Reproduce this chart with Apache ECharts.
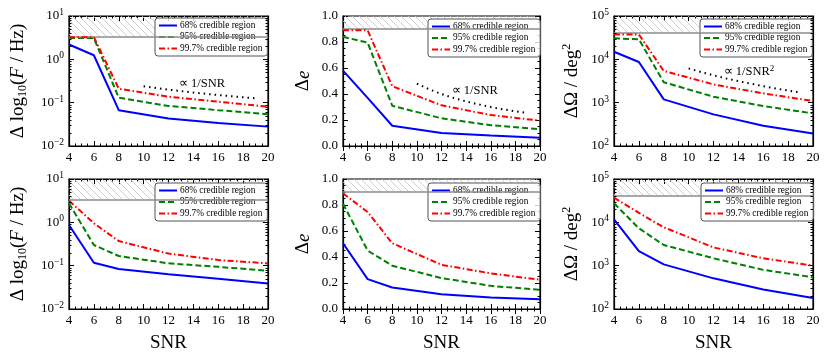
<!DOCTYPE html>
<html>
<head>
<meta charset="utf-8">
<script src="https://cdn.jsdelivr.net/npm/echarts@6/dist/echarts.min.js"></script>
<style>
  html, body { margin: 0; padding: 0; background: #fff; }
  #chart { width: 830px; height: 361px; }
</style>
</head>
<body>
<div id="chart"></div>
<script>
// SNR grid of the simulations
const snr = [4, 6, 8, 12, 16, 20];
// reference 1/SNR guide points
const refSnr = [10, 11, 12, 13, 14, 15, 16, 17, 18, 19];

// top row
const freqTop68 = [2.2, 1.24, 0.067, 0.043, 0.034, 0.028];
const freqTop95 = [3.1, 3.1, 0.13, 0.084, 0.067, 0.054];
const freqTop997 = [3.25, 3.25, 0.21, 0.137, 0.105, 0.081];
const freqTopRef = [0.24, 0.218, 0.2, 0.185, 0.171, 0.16, 0.15, 0.141, 0.133, 0.126];

const eccTop68 = [0.58, 0.37, 0.156, 0.10, 0.08, 0.064];
const eccTop95 = [0.84, 0.795, 0.31, 0.213, 0.16, 0.128];
const eccTop997 = [0.89, 0.89, 0.46, 0.313, 0.238, 0.195];
const eccTopRef = [0.48, 0.436, 0.4, 0.369, 0.343, 0.32, 0.3, 0.282, 0.267, 0.253];

const skyTop68 = [15000, 8700, 1190, 537, 293, 195];
const skyTop95 = [30500, 29000, 2960, 1370, 835, 566];
const skyTop997 = [37500, 37500, 5400, 2640, 1640, 1090];
const skyTopRef = [6160, 5090, 4280, 3640, 3140, 2740, 2410, 2130, 1900, 1710];

// bottom row
const freqBot68 = [0.87, 0.117, 0.084, 0.063, 0.05, 0.039];
const freqBot95 = [2.75, 0.30, 0.167, 0.113, 0.094, 0.076];
const freqBot997 = [3.16, 0.95, 0.37, 0.19, 0.135, 0.113];

const eccBot68 = [0.506, 0.23, 0.165, 0.114, 0.088, 0.075];
const eccBot95 = [0.81, 0.45, 0.333, 0.238, 0.178, 0.147];
const eccBot997 = [0.89, 0.746, 0.506, 0.34, 0.274, 0.225];

const skyBot68 = [11700, 2170, 1070, 510, 283, 180];
const skyBot95 = [27500, 7300, 3000, 1480, 800, 540];
const skyBot997 = [37000, 16600, 7700, 2640, 1480, 1000];

// prior limits (hatched)
const freqLimit = 3.3;
const eccLimit = 0.9;
const skyLimit = 41253;

const names = ['68% credible region', '95% credible region', '99.7% credible region'];
const FONT = 'Liberation Serif';

// hatch pattern
const hatch = document.createElement('canvas');
hatch.width = 7; hatch.height = 7;
(function () {
  const c = hatch.getContext('2d');
  c.strokeStyle = '#c4c4c4';
  c.lineWidth = 0.8;
  c.beginPath();
  c.moveTo(-1, -1); c.lineTo(8, 8);
  c.moveTo(-1, 6); c.lineTo(1, 8);
  c.moveTo(6, -1); c.lineTo(8, 1);
  c.stroke();
})();

const panels = [
  { left: 69, top: 16, width: 199, kind: 'freq', d: [freqTop68, freqTop95, freqTop997], ref: freqTopRef, note: [14.7, 0.28, '∝ 1/SNR'], legend: [155, 18], xname: '' },
  { left: 343, top: 16, width: 197, kind: 'ecc', d: [eccTop68, eccTop95, eccTop997], ref: eccTopRef, note: [14.7, 0.425, '∝ 1/SNR'], legend: [428, 19], xname: '' },
  { left: 614, top: 16, width: 199, kind: 'sky', d: [skyTop68, skyTop95, skyTop997], ref: skyTopRef, note: [14.85, 5180, '∝ 1/SNR{sup|2}'], legend: [700, 19], xname: '' },
  { left: 69, top: 179, width: 199, kind: 'freq', d: [freqBot68, freqBot95, freqBot997], legend: [155, 183], xname: 'SNR' },
  { left: 343, top: 179, width: 197, kind: 'ecc', d: [eccBot68, eccBot95, eccBot997], legend: [428, 183], xname: 'SNR' },
  { left: 614, top: 179, width: 199, kind: 'sky', d: [skyBot68, skyBot95, skyBot997], legend: [701, 183], xname: 'SNR' }
];

const kinds = {
  freq: { min: 0.01, max: 10, log: true, limit: freqLimit, name: 'Δ log{sub|10}({i|F} / Hz)', gap: 40 },
  ecc: { min: 0, max: 1, log: false, limit: eccLimit, name: 'Δ{i|e}', gap: 30 },
  sky: { min: 100, max: 100000, log: true, limit: skyLimit, name: 'ΔΩ / deg{sup|2}', gap: 31 }
};

const logLabel = v => {
  const e = Math.round(Math.log10(v));
  return '10{sup|' + String(e).replace('-', '−') + '}';
};

const labelRich = {
  sup: { fontSize: 9.5, fontFamily: FONT, color: '#000', verticalAlign: 'bottom', padding: [0, 0, 7, 0] }
};
const nameRich = {
  sub: { fontSize: 12, fontFamily: FONT, color: '#000', padding: [10, 0, 0, 0] },
  sup: { fontSize: 12, fontFamily: FONT, color: '#000', padding: [0, 0, 10, 0] },
  i: { fontSize: 19, fontFamily: FONT, fontStyle: 'italic', color: '#000' }
};

const grids = [], xAxes = [], yAxes = [], series = [], legends = [];
const styles = [
  { color: '#0000ff', type: 'solid' },
  { color: '#008000', type: [6, 3] },
  { color: '#ff0000', type: [6, 2.5, 1.5, 2.5] }
];

panels.forEach((p, i) => {
  const k = kinds[p.kind];
  grids.push({ left: p.left, top: p.top, width: p.width, height: 130, show: true, borderColor: '#000', borderWidth: 1.2, backgroundColor: 'transparent' });

  const xBase = {
    gridIndex: i, type: 'value', min: 4, max: 20, interval: 2,
    axisLine: { show: true, lineStyle: { color: '#000', width: 1.2 } },
    axisTick: { inside: true, length: 5, lineStyle: { color: '#000' } },
    minorTick: { show: true, splitNumber: 4, length: 2.5, lineStyle: { color: '#000' } },
    splitLine: { show: false }
  };
  xAxes.push(Object.assign({}, xBase, {
    position: 'bottom',
    axisLabel: { fontSize: 13, fontFamily: FONT, color: '#000', margin: 5 },
    name: p.xname, nameLocation: 'middle', nameGap: 25,
    nameTextStyle: { fontSize: 19, fontFamily: FONT, color: '#000' }
  }));
  xAxes.push(Object.assign({}, xBase, { position: 'top', axisLabel: { show: false } }));

  const yBase = {
    gridIndex: i, min: k.min, max: k.max,
    axisLine: { show: true, lineStyle: { color: '#000', width: 1.2 } },
    axisTick: { inside: true, length: 5, lineStyle: { color: '#000' } },
    splitLine: { show: false }
  };
  if (k.log) {
    yBase.type = 'log';
    yBase.logBase = 10;
  } else {
    yBase.type = 'value';
    yBase.interval = 0.2;
    yBase.minorTick = { show: true, splitNumber: 4, length: 2.5, lineStyle: { color: '#000' } };
  }
  yAxes.push(Object.assign({}, yBase, {
    position: 'left',
    axisLabel: {
      fontSize: 13, fontFamily: FONT, color: '#000', margin: 5,
      formatter: k.log ? logLabel : (v => v.toFixed(1)),
      rich: labelRich
    },
    name: k.name, nameLocation: 'middle', nameGap: k.gap, nameRotate: 90,
    nameTextStyle: { fontSize: 19, fontFamily: FONT, color: '#000', rich: nameRich }
  }));
  yAxes.push(Object.assign({}, yBase, { position: 'right', axisLabel: { show: false } }));

  const xi = 2 * i, yi = 2 * i;
  p.d.forEach((arr, j) => {
    const s = {
      name: names[j], type: 'line', xAxisIndex: xi, yAxisIndex: yi,
      symbol: 'none', silent: true, z: 3 + j,
      lineStyle: { color: styles[j].color, width: 2, type: styles[j].type },
      itemStyle: { color: styles[j].color },
      data: snr.map((x, n) => [x, arr[n]])
    };
    if (j === 0) {
      s.markArea = {
        silent: true,
        itemStyle: { color: { image: hatch, repeat: 'repeat' } },
        data: [[{ xAxis: 4, yAxis: k.limit }, { xAxis: 20, yAxis: k.max }]]
      };
      s.markLine = {
        silent: true, symbol: 'none', label: { show: false },
        lineStyle: { color: '#8c8c8c', width: 1.5, type: 'solid' },
        data: [{ yAxis: k.limit }]
      };
    }
    series.push(s);
  });

  if (p.ref) {
    series.push({
      name: 'ref', type: 'line', xAxisIndex: xi, yAxisIndex: yi,
      symbol: 'none', silent: true, z: 2,
      lineStyle: { color: '#000', width: 2, type: [1.5, 4] },
      data: refSnr.map((x, n) => [x, p.ref[n]]),
      markPoint: {
        symbol: 'circle', symbolSize: 0, silent: true,
        label: {
          show: true, position: 'inside', formatter: p.note[2],
          fontSize: 12.5, fontFamily: FONT, color: '#000',
          rich: { sup: { fontSize: 9, fontFamily: FONT, color: '#000', verticalAlign: 'bottom', padding: [0, 0, 6, 0] } }
        },
        data: [{ coord: [p.note[0], p.note[1]] }]
      }
    });
  }

  // log minor ticks at 2..9 x 10^n on both y sides
  if (k.log) {
    const minors = [];
    for (let e = Math.log10(k.min); e < Math.log10(k.max); e++) {
      for (let m = 2; m <= 9; m++) minors.push([4, m * Math.pow(10, e)]);
    }
    series.push({
      type: 'custom', xAxisIndex: xi, yAxisIndex: yi, silent: true, z: 6,
      data: minors,
      renderItem: (params, api) => {
        const pt = api.coord([api.value(0), api.value(1)]);
        const cs = params.coordSys;
        const y = Math.round(pt[1]) + 0.5;
        return {
          type: 'group', children: [
            { type: 'line', shape: { x1: cs.x, y1: y, x2: cs.x + 2.5, y2: y }, style: { stroke: '#000', lineWidth: 1 } },
            { type: 'line', shape: { x1: cs.x + cs.width, y1: y, x2: cs.x + cs.width - 2.5, y2: y }, style: { stroke: '#000', lineWidth: 1 } }
          ]
        };
      }
    });
  }

  legends.push({
    orient: 'vertical', left: p.legend[0], top: p.legend[1],
    data: names, selectedMode: false,
    itemWidth: 18, itemHeight: 8, itemGap: 2.5,
    padding: [3, 5, 3, 3],
    itemStyle: { opacity: 0 },
    textStyle: { fontSize: 9.3, fontFamily: FONT, color: '#000', padding: [0, 0, 0, -2] },
    backgroundColor: 'rgba(255,255,255,0.8)',
    borderColor: '#555', borderWidth: 1, borderRadius: 3
  });
});

const chart = echarts.init(document.getElementById('chart'), null, { renderer: 'canvas' });
chart.setOption({
  animation: false,
  backgroundColor: '#fff',
  grid: grids,
  xAxis: xAxes,
  yAxis: yAxes,
  legend: legends,
  series: series
});
</script>
</body>
</html>
